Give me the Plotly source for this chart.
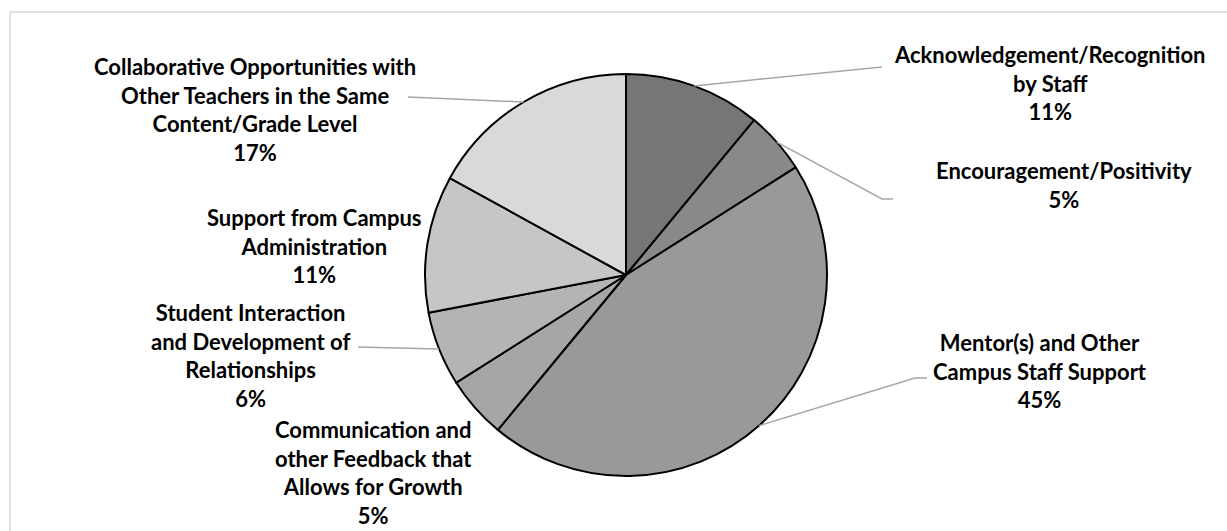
import math
import plotly.graph_objects as go

# Sources of support reported by new teachers (share of responses, %)
categories = [
    "Acknowledgement/Recognition<br>by Staff",
    "Encouragement/Positivity",
    "Mentor(s) and Other<br>Campus Staff Support",
    "Communication and<br>other Feedback that<br>Allows for Growth",
    "Student Interaction<br>and Development of<br>Relationships",
    "Support from Campus<br>Administration",
    "Collaborative Opportunities with<br>Other Teachers in the Same<br>Content/Grade Level",
]
values = [11, 5, 45, 5, 6, 11, 17]
colors = ["#767676", "#898989", "#999999", "#a6a6a6", "#b4b4b4", "#c6c6c6", "#d9d9d9"]

W, H = 1227, 531
# pie placement in pixels (centre and radius)
CX, CY, R = 626, 275, 201

# label anchor (centre of text block) in pixels, and optional leader-line elbow/end
label_pos = [
    (1050, 83), (1064, 185), (1040, 371), (373, 472),
    (250, 355), (314, 246), (255, 109),
]
leader_end = [
    [(882, 67)],
    [(882, 199), (893, 199)],
    [(915, 378), (927, 378)],
    None,
    [(358, 347)],
    None,
    [(408, 97)],
]

fig = go.Figure()
fig.add_trace(go.Pie(
    labels=[c.replace("<br>", " ") for c in categories],
    values=values,
    sort=False,
    direction="clockwise",
    rotation=0,
    textinfo="none",
    hoverinfo="label+percent",
    marker=dict(colors=colors, line=dict(color="#000000", width=2)),
    domain=dict(x=[(CX - R) / W, (CX + R) / W], y=[(H - CY - R) / H, (H - CY + R) / H]),
    showlegend=False,
))

def px(x):
    return x / W

def py(y):
    return 1 - y / H

total = sum(values)
shapes = []
annotations = []
cum = 0
for cat, v, pos, ends in zip(categories, values, label_pos, leader_end):
    mid = (cum + v / 2) / total * 2 * math.pi
    cum += v
    if ends:
        sx = CX + R * math.sin(mid)
        sy = CY - R * math.cos(mid)
        pts = [(sx, sy)] + ends
        path = "M " + " L ".join(f"{px(x)},{py(y)}" for x, y in pts)
        shapes.append(dict(type="path", xref="paper", yref="paper", path=path,
                           line=dict(color="#a6a6a6", width=1.5)))
    annotations.append(dict(
        x=px(pos[0]), y=py(pos[1]), xref="paper", yref="paper",
        text=f"{cat}<br>{v}%", showarrow=False, align="center",
        xanchor="center", yanchor="middle",
        font=dict(family="Lato", size=22, color="#000000", weight="bold"),
    ))

# chart-area frame
shapes.append(dict(type="rect", xref="paper", yref="paper",
                   x0=px(10), y0=-0.02, x1=1.02, y1=py(12),
                   line=dict(color="#d9d9d9", width=1.5), fillcolor="rgba(0,0,0,0)"))

fig.update_layout(
    width=W, height=H,
    margin=dict(l=0, r=0, t=0, b=0),
    paper_bgcolor="#ffffff",
    plot_bgcolor="#ffffff",
    shapes=shapes,
    annotations=annotations,
)

fig.write_html("out.html")
